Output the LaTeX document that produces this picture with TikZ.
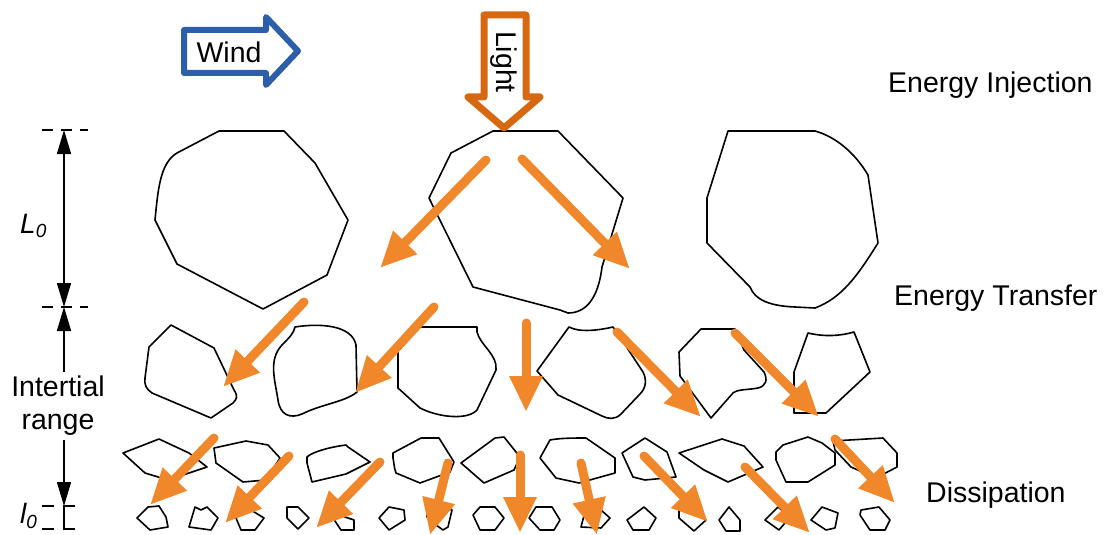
\documentclass[tikz,border=0pt]{standalone}
\usepackage{fontspec}
\setmainfont{Liberation Sans}
\usetikzlibrary{arrows.meta}
\definecolor{windblue}{RGB}{44,94,170}
\definecolor{lightorange}{RGB}{214,104,18}
\definecolor{flow}{RGB}{240,135,42}
\tikzset{
  blob/.style={draw=black, line width=1.6pt, line join=round},
  flowarrow/.style={draw=flow, line width=9pt, line cap=round,
    -{Triangle[length=36pt,width=31pt]}},
  dimline/.style={draw=black, line width=1.5pt},
  dimarrow/.style={draw=black, line width=1.5pt, -{Triangle[length=24pt,width=14pt]}},
  txt/.style={inner sep=0pt, font=\fontsize{28.5}{33}\selectfont},
}
\begin{document}
\begin{tikzpicture}[x=1pt,y=-1pt]
\useasboundingbox (0,0) rectangle (1109,535);

% ---- top injection arrows
\draw[windblue, line width=6pt, line join=round]
  (184,30) -- (266,30) -- (266,17) -- (298,51) -- (266,85) -- (266,73) -- (184,73) -- cycle;
\node[txt] (wind) at (229,52) {Wind};

% ---- labels
\node[txt, anchor=west] (inj) at (888,85) {Energy Injection};
\node[txt, anchor=west] (trans) at (894,298) {Energy Transfer};
\node[txt, anchor=west] (diss) at (926,495) {Dissipation};

% ---- dimension annotation
\coordinate (Ltop) at (64,130);
\coordinate (Lbot) at (64,307);
\draw[dimline, dash pattern=on 11pt off 8pt] (42,130) -- (88,130);
\draw[dimline, dash pattern=on 11pt off 8pt] (42,307) -- (88,307);
\draw[dimarrow] (64,218) -- (Ltop);
\draw[dimarrow] (64,218) -- (Lbot);
\node[inner sep=0pt, anchor=base west] (L0) at (20,233)
  {\fontsize{28}{32}\selectfont\itshape L\raisebox{-4pt}{\fontsize{19}{20}\selectfont 0}};

\node[txt, align=center] (range) at (58,406) {Intertial\\range};
\coordinate (rtop) at (64,372);
\coordinate (rbot) at (64,440);
\coordinate (l0top) at (64,506);
\draw[dimarrow] (rtop) -- (Lbot);
\draw[dimarrow] (rbot) -- (l0top);
\draw[dimline] (42,506) -- (54,506) (42,529) -- (54,529);
\draw[dimline] (75,506) -- (64,506) -- (64,529) -- (75,529);
\node[inner sep=0pt, anchor=base west] (l0) at (20,523)
  {\fontsize{28}{32}\selectfont\itshape l\raisebox{-5pt}{\fontsize{19}{20}\selectfont 0}};

% ---- row 1 (large eddies)
\draw[blob] (219,131) -- (284,131) -- (315,163) -- (348,220) -- (327,275) -- (263,309)
  -- (177,264) -- (155,220) .. controls (158,190) and (160,163) .. (177,153) -- cycle;
\draw[blob] (493,131) -- (558,131) -- (623,198) -- (602,267)
  .. controls (598,300) and (585,313) .. (568,313) -- (560,310) -- (473,287)
  -- (429,198) -- (451,153) -- cycle;
\draw[blob] (728,131) -- (815,131) .. controls (840,138) and (858,158) .. (868,175)
  -- (878,243) .. controls (858,275) and (842,298) .. (815,308) -- (795,307)
  .. controls (770,306) and (755,300) .. (750,287) -- (707,243) -- (707,198) -- cycle;

% ---- row 2
\draw[blob] (171,325) -- (214,348) -- (234,390) .. controls (238,396) and (237,399) .. (233,403)
  -- (211,418) -- (152,393) .. controls (146,389) and (144,384) .. (145,378) -- (149,347) -- cycle;
\draw[blob] (295,327) .. controls (320,323) and (352,325) .. (356,345) -- (357,392)
  .. controls (345,402) and (322,404) .. (302,414) .. controls (290,419) and (280,415) .. (278,400)
  .. controls (275,380) and (268,360) .. (282,345) .. controls (289,338) and (294,333) .. (295,327) -- cycle;
\draw[blob] (420,327) -- (477,327) -- (477,332) .. controls (480,345) and (498,355) .. (496,370)
  -- (477,410) .. controls (468,420) and (440,418) .. (420,408) -- (398,388) -- (398,350) -- cycle;
\draw[blob] (569,327) .. controls (580,333) and (600,330) .. (613,327) -- (618,334) -- (643,372)
  .. controls (647,380) and (646,388) .. (640,394) -- (621,414) .. controls (615,420) and (608,419) .. (602,416)
  -- (558,395) -- (537,371) -- cycle;
\draw[blob] (701,329) -- (735,329) -- (744,350) -- (764,372) .. controls (768,380) and (766,386) .. (758,388)
  .. controls (748,390) and (738,389) .. (733,393) -- (711,418) -- (680,376) -- (679,352) -- cycle;
\draw[blob] (808,333) .. controls (825,337) and (840,336) .. (854,332) -- (870,372) -- (826,413)
  -- (794,413) -- (794,372) -- cycle;

% ---- row 3
\draw[blob] (123,453) -- (159,439) -- (189,453) -- (207,467) -- (168,480) -- (145,473) -- cycle;
\draw[blob] (214,448) -- (246,441) -- (268,445) -- (280,458) -- (266,480) -- (243,482) -- (216,463) -- cycle;
\draw[blob] (307,457) .. controls (312,452) and (330,447) .. (346,445) -- (348,447) -- (370,462)
  -- (346,474) -- (312,482) -- (307,463) -- cycle;
\draw[blob] (393,453) -- (421,438) -- (439,438) -- (454,462) -- (450,472) -- (420,483) -- (396,473)
  .. controls (394,468) and (394,462) .. (393,458) -- cycle;
\draw[blob] (461,463) -- (495,438) -- (504,437) -- (520,457) -- (514,470) -- (484,483) -- cycle;
\draw[blob] (540,458) -- (550,440) .. controls (560,438) and (575,438) .. (586,438) -- (615,458)
  -- (615,473) -- (579,483) -- (556,478) -- cycle;
\draw[blob] (622,453) -- (645,438) -- (667,452) -- (676,477) -- (645,480) -- (633,477) -- cycle;
\draw[blob] (679,453) -- (722,439) -- (744,446) -- (763,467) -- (728,482) -- (704,470) -- cycle;
\draw[blob] (776,452) -- (783,445) -- (808,437) -- (822,443) -- (835,453) -- (835,465)
  -- (808,482) -- (786,482) -- (776,460) -- cycle;
\draw[blob] (833,441) -- (883,438) -- (897,453) -- (897,467) -- (876,478) -- (851,467) -- (835,450) -- cycle;

% ---- row 4 (smallest eddies)
\draw[blob] (148,507) -- (159,506) -- (166,517) -- (168,527) -- (150,530) -- (137,518) -- cycle;
\draw[blob] (195,507) -- (201,510) -- (207,507) -- (218,518) -- (211,530) -- (189,527) -- cycle;
\draw[blob] (246,507) -- (264,518) -- (255,530) -- (241,530) -- (236,518) -- cycle;
\draw[blob] (287,507) -- (298,507) -- (309,518) -- (298,529) -- (287,518) -- cycle;
\draw[blob] (336,507) -- (345,517) -- (354,520) -- (354,530) -- (341,530) -- (333,518) -- cycle;
\draw[blob] (379,518) -- (389,507) -- (404,510) -- (405,520) -- (389,530) -- cycle;
\draw[blob] (427,510) -- (443,507) -- (452,510) -- (448,527) -- (443,530) -- (432,522) -- (427,517) -- cycle;
\draw[blob] (480,507) -- (495,507) -- (504,518) -- (495,530) -- (480,530) -- (473,515) -- cycle;
\draw[blob] (536,507) -- (552,507) -- (560,520) -- (554,530) -- (540,530) -- (529,518) -- cycle;
\draw[blob] (586,508) -- (601,510) -- (610,518) -- (601,528) -- (581,527) -- cycle;
\draw[blob] (627,520) -- (644,507) -- (656,518) -- (649,530) -- (633,530) -- cycle;
\draw[blob] (679,507) -- (690,507) -- (706,520) -- (694,531) -- (679,518) -- cycle;
\draw[blob] (719,520) -- (729,507) -- (740,520) -- (740,531) -- (726,531) -- cycle;
\draw[blob] (765,520) -- (778,507) -- (790,517) -- (779,530) -- cycle;
\draw[blob] (811,520) -- (822,507) -- (838,513) -- (835,528) -- (826,530) -- cycle;
\draw[blob] (861,510) -- (879,507) -- (890,520) -- (885,530) -- (870,530) -- (860,515) -- cycle;

% ---- light arrow (on top of first row)
\draw[lightorange, line width=7pt, line join=round, fill=white]
  (484,15) -- (526,15) -- (526,97) -- (540,97) -- (504,128) -- (468,97) -- (484,97) -- cycle;
\node[txt, rotate=-90] (light) at (504,62) {Light};

% ---- energy cascade arrows
\draw[flowarrow] (486,160) -- (380,268);
\draw[flowarrow] (522,159) -- (630,269);

\draw[flowarrow] (304,302) -- (223,387);
\draw[flowarrow] (434,307) -- (355,393);
\draw[flowarrow] (526,323) -- (526,412);
\draw[flowarrow] (617,332) -- (701,417);
\draw[flowarrow] (735,333) -- (819,417);

\draw[flowarrow] (214,438) -- (150,505);
\draw[flowarrow] (289,456) -- (225,523);
\draw[flowarrow] (380,462) -- (316,528);
\draw[flowarrow] (448,463) -- (430,535);
\draw[flowarrow] (520,455) -- (520,533);
\draw[flowarrow] (581,463) -- (597,535);
\draw[flowarrow] (644,456) -- (708,522);
\draw[flowarrow] (745,467) -- (810,533);
\draw[flowarrow] (835,439) -- (895,503);
\end{tikzpicture}
\end{document}
